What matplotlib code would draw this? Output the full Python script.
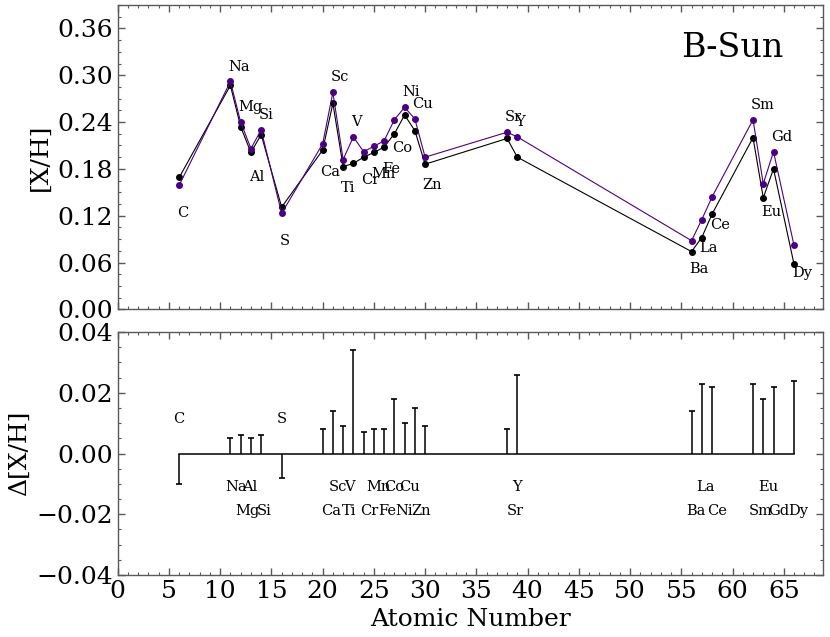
import matplotlib
matplotlib.use("Agg")
import matplotlib.pyplot as plt
from matplotlib.ticker import MultipleLocator, AutoMinorLocator

# ---- data ----
elements = ["C", "Na", "Mg", "Al", "Si", "S", "Ca", "Sc", "Ti", "V", "Cr", "Mn", "Fe",
            "Co", "Ni", "Cu", "Zn", "Sr", "Y", "Ba", "La", "Ce", "Sm", "Eu", "Gd", "Dy"]
atomic_number = [6, 11, 12, 13, 14, 16, 20, 21, 22, 23, 24, 25, 26,
                 27, 28, 29, 30, 38, 39, 56, 57, 58, 62, 63, 64, 66]
xh_black = [0.169, 0.287, 0.234, 0.201, 0.224, 0.131, 0.204, 0.264, 0.183, 0.187, 0.195, 0.201, 0.208,
            0.225, 0.249, 0.229, 0.186, 0.219, 0.195, 0.074, 0.092, 0.122, 0.220, 0.143, 0.180, 0.058]
xh_purple = [0.159, 0.292, 0.240, 0.206, 0.230, 0.123, 0.212, 0.278, 0.192, 0.221, 0.202, 0.209, 0.216,
             0.243, 0.259, 0.244, 0.195, 0.227, 0.221, 0.088, 0.115, 0.144, 0.243, 0.161, 0.202, 0.082]
delta_xh = [-0.010, 0.005, 0.006, 0.005, 0.006, -0.008, 0.008, 0.014, 0.009, 0.034, 0.007, 0.008, 0.008,
            0.018, 0.010, 0.015, 0.009, 0.008, 0.026, 0.014, 0.023, 0.022, 0.023, 0.018, 0.022, 0.024]
top_label_above = ["Na", "Mg", "Si", "Sc", "V", "Ni", "Cu", "Sr", "Y", "Sm", "Gd"]
bottom_label_dx = [-0.55, -0.5, -0.5, -0.85, -0.45, -0.5, -0.1, -0.45, -0.15, -0.9, -0.35, -0.7, -0.55,
                   -1.0, -0.95, -1.5, -1.3, -0.05, -0.55, -0.5, -0.5, -0.45, -0.45, -0.5, -0.5, -0.55]

# ---- style ----
plt.rcParams['font.family'] = ['DejaVu Serif']
plt.rcParams['mathtext.fontset'] = 'dejavuserif'
edge = '0.35'

fig = plt.figure(figsize=(8.3, 6.37), dpi=100)
ax1 = fig.add_axes([0.1418, 0.5144, 0.8494, 0.4777])
ax2 = fig.add_axes([0.1418, 0.0973, 0.8494, 0.3815])

purple = '#4B0082'
ax1.plot(atomic_number, xh_black, '-o', color='black', lw=0.8, ms=4, zorder=3)
ax1.plot(atomic_number, xh_purple, '-o', color=purple, lw=0.8, ms=4, zorder=4)

for el, z, v in zip(elements, atomic_number, xh_purple):
    if el in top_label_above:
        y = v + 0.014
    else:
        y = v - 0.041
    ax1.text(z - 0.22, y, el, fontsize=10.5, ha='left', va='baseline')

ax1.text(0.872, 0.859, 'B-Sun', transform=ax1.transAxes, fontsize=24,
         ha='center', va='center')

ax1.set_xlim(0, 68.8)
ax1.set_ylim(0, 0.39)
ax1.yaxis.set_major_locator(MultipleLocator(0.06))
ax1.set_ylabel('[X/H]', fontsize=18)
ax1.tick_params(labelbottom=False)

# bottom panel
markerline, stemlines, baseline = ax2.stem(atomic_number, delta_xh, linefmt='k-',
                                            markerfmt='k_', basefmt='k-')
markerline.set_markersize(4)
markerline.set_markeredgewidth(1.2)
stemlines.set_linewidth(1.1)
baseline.set_linewidth(1.1)

for el, z, d, dx in zip(elements, atomic_number, delta_xh, bottom_label_dx):
    if d < 0:
        y = 0.010
    elif z % 2 == 1:
        y = -0.0123
    else:
        y = -0.0202
    ax2.text(z + dx, y, el, fontsize=10.5, ha='left', va='baseline')

ax2.set_xlim(0, 68.8)
ax2.set_ylim(-0.04, 0.04)
ax2.yaxis.set_major_locator(MultipleLocator(0.02))
ax2.set_ylabel('Δ[X/H]', fontsize=18)
ax2.set_xlabel('Atomic Number', fontsize=18)

for ax in (ax1, ax2):
    ax.xaxis.set_major_locator(MultipleLocator(5))
    ax.xaxis.set_minor_locator(AutoMinorLocator())
    ax.yaxis.set_minor_locator(AutoMinorLocator())
    ax.tick_params(which='both', direction='in', top=True, right=True,
                   color=edge, labelsize=18)
    ax.tick_params(which='major', length=5, width=1)
    ax.tick_params(which='minor', length=2, width=0.8)
    for s in ax.spines.values():
        s.set_color(edge)
        s.set_linewidth(1)

fig.savefig('out.png', dpi=100)
